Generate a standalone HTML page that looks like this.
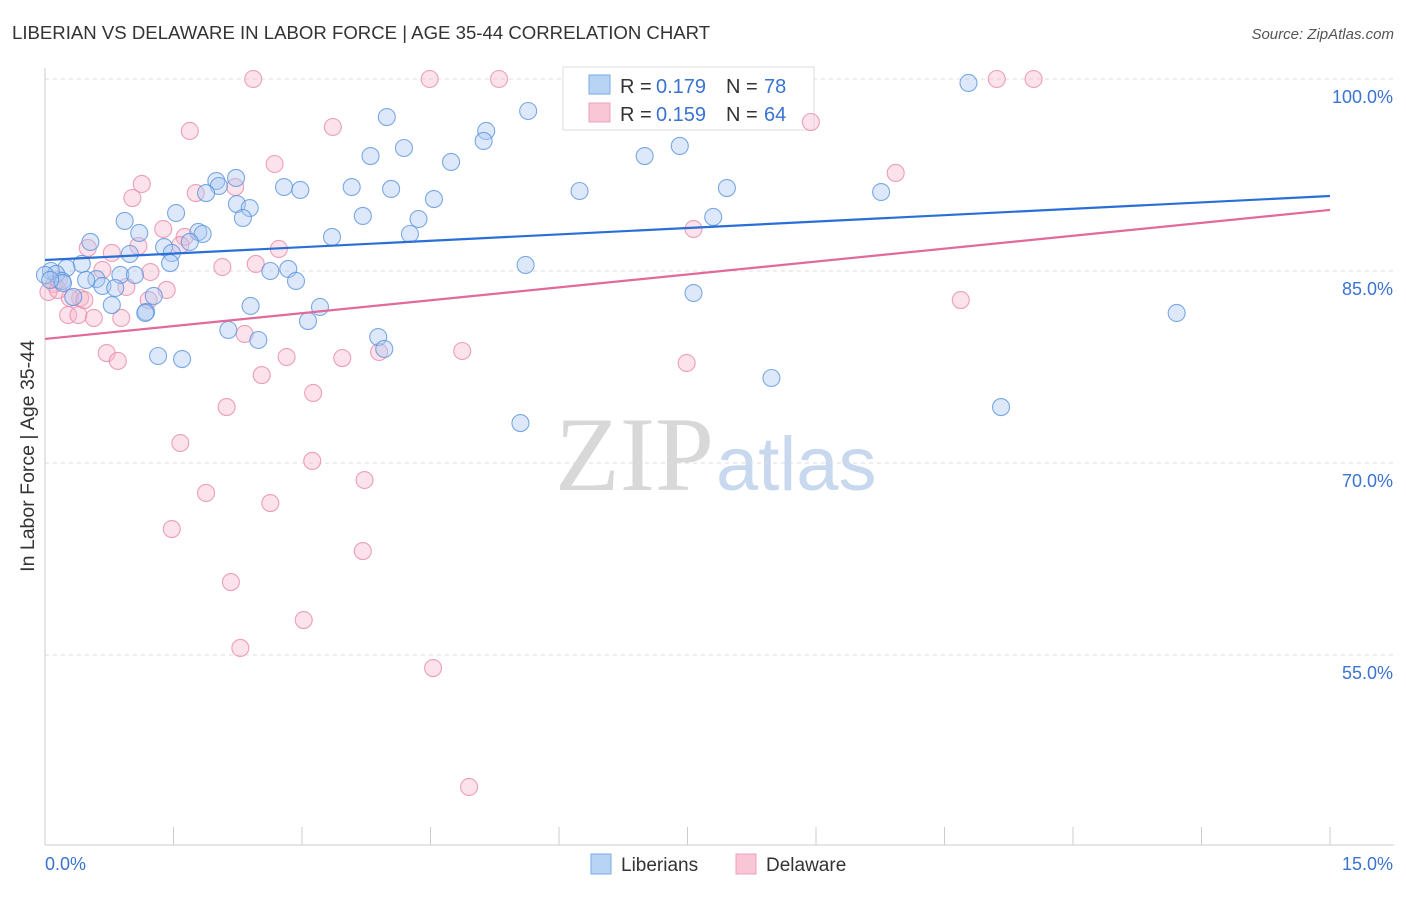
<!DOCTYPE html>
<html><head><meta charset="utf-8"><style>
body{margin:0;background:#fff;font-family:"Liberation Sans",sans-serif;}
</style></head><body>
<svg id="chart" width="1406" height="892" xmlns="http://www.w3.org/2000/svg" font-family="Liberation Sans, sans-serif">
<text x="12" y="39" font-size="18.6" fill="#333">LIBERIAN VS DELAWARE IN LABOR FORCE | AGE 35-44 CORRELATION CHART</text>
<text x="1394" y="39" font-size="15" fill="#555" text-anchor="end" font-style="italic">Source: ZipAtlas.com</text>
<text x="714" y="490" font-size="106" text-anchor="end" fill="#d8d8d8" font-family="Liberation Serif, serif">ZIP</text>
<text x="716" y="490" font-size="76" fill="#c8d8ee">atlas</text>
<g id="grid"></g>
<g id="axes"></g>
<g>
<rect x="563" y="67" width="251" height="63" fill="#fff" stroke="#ddd"/>
<rect x="589" y="75" width="21" height="19" fill="#b8d4f5" stroke="#7aaae6"/>
<rect x="589" y="103" width="21" height="19" fill="#f9c6d5" stroke="#eea0b8"/>
<text x="620" y="93" font-size="20" fill="#333">R =</text>
<text x="656" y="93" font-size="20" fill="#3a73d0">0.179</text>
<text x="726" y="93" font-size="20" fill="#333">N =</text>
<text x="764" y="93" font-size="20" fill="#3a73d0">78</text>
<text x="620" y="121" font-size="20" fill="#333">R =</text>
<text x="656" y="121" font-size="20" fill="#3a73d0">0.159</text>
<text x="726" y="121" font-size="20" fill="#333">N =</text>
<text x="764" y="121" font-size="20" fill="#3a73d0">64</text>
</g>
<g id="marks"></g>
<text transform="translate(34,456) rotate(-90)" font-size="19.5" fill="#333" text-anchor="middle">In Labor Force | Age 35-44</text>
<g>
<rect x="591" y="854" width="20" height="20" fill="#b8d4f5" stroke="#7aaae6"/>
<text x="621" y="871" font-size="19" fill="#333">Liberians</text>
<rect x="736" y="854" width="20" height="20" fill="#f9c6d5" stroke="#eea0b8"/>
<text x="766" y="871" font-size="19" fill="#333">Delaware</text>
</g>
</svg>
<script>
const yTicks=[100,85,70,55];
const yTickLabels=["100.0%","85.0%","70.0%","55.0%"];
const xTickLabels=["0.0%","15.0%"];
const blueX=[10.78,5.64,3.99,5.15,5.12,4.19,7.41,3.80,7.00,4.74,2.23,2.00,2.03,2.79,3.58,2.98,4.04,6.24,7.96,9.76,1.88,2.24,2.39,4.54,1.53,3.71,2.31,4.36,7.80,0.93,1.10,1.79,1.84,3.35,4.26,0.53,1.69,1.39,1.48,0.99,0.43,1.46,5.61,0.25,0.07,0.13,2.63,2.84,0,0.60,0.88,1.05,0.20,0.48,2.93,0.67,0.82,0.33,1.27,0.78,2.40,3.21,1.18,1.17,13.21,3.07,2.14,2.49,3.89,3.96,1.32,1.60,7.57,8.48,11.16,5.55,0.21,0.06];
const blueY=[99.69,97.5,97.03,95.94,95.16,94.61,94.77,93.98,93.98,93.52,92.27,92.03,91.64,91.56,91.56,91.33,91.41,91.25,91.48,91.17,91.09,90.23,89.92,90.62,89.53,89.3,89.14,89.06,89.22,88.91,87.97,88.05,87.89,87.66,87.89,87.27,87.27,86.87,86.41,86.33,85.55,85.62,85.47,85.23,85.0,84.77,85.0,85.16,84.69,84.37,84.69,84.69,84.22,84.3,84.22,83.83,83.67,82.97,83.05,82.34,82.27,82.19,81.8,81.72,81.72,81.09,80.39,79.61,79.84,78.91,78.36,78.12,83.28,76.64,74.37,73.12,84.06,84.3];
const pinkX=[2.43,4.49,5.30,11.11,11.54,8.94,1.69,3.36,2.68,9.93,1.13,2.22,1.76,1.02,1.38,7.57,1.63,0.50,1.09,0.78,1.58,2.46,2.07,2.73,0.67,1.23,0.95,1.42,0.11,0.41,0.29,1.21,0.04,0.15,10.69,0.27,0.39,0.57,0.89,2.33,0.72,0.85,2.82,3.47,3.90,4.87,7.49,2.53,2.12,3.13,1.58,3.12,3.73,1.88,2.63,1.48,3.71,2.17,3.02,2.28,4.53,4.95,0.16,0.46];
const pinkY=[100,100,100,100,100,96.64,95.94,96.25,93.36,92.66,91.8,91.56,91.09,90.7,88.28,88.28,87.66,86.8,86.95,86.41,87.03,85.55,85.31,86.72,85.08,84.92,83.75,83.52,83.98,82.89,82.89,82.73,83.36,83.52,82.73,81.56,81.56,81.33,81.33,80.08,78.59,77.97,78.28,78.2,78.67,78.75,77.81,76.87,74.37,75.47,71.56,70.16,68.67,67.66,66.87,64.84,63.12,60.7,57.73,55.55,53.98,44.69,84.3,82.73];
const blueTrend=[85.86,90.86];
const pinkTrend=[79.69,89.77];
const NS="http://www.w3.org/2000/svg";
const X0=45,X1=1330,Y100=79,PPU=12.8;
const xs=v=>X0+v/15*(X1-X0);
const ys=v=>Y100+(100-v)*PPU;
function mk(t,a,p){const e=document.createElementNS(NS,t);for(const k in a)e.setAttribute(k,a[k]);p.appendChild(e);return e;}
const grid=document.getElementById('grid'),axes=document.getElementById('axes'),marks=document.getElementById('marks');
yTicks.forEach((t,i)=>{
 const l=mk('line',{x1:X0,x2:1394,y1:ys(t),y2:ys(t),stroke:'#ddd','stroke-dasharray':'4,4'},grid);
 
 
 const tx=mk('text',{x:1393,y:ys(t)+24,'font-size':18,fill:'#3a73d0','text-anchor':'end'},axes);
 tx.textContent=yTickLabels[i];
 
 
});
const ya=mk('line',{x1:X0,x2:X0,y1:68,y2:845,stroke:'#ccc'},axes);


const xa=mk('line',{x1:X0,x2:1394,y1:845,y2:845,stroke:'#ccc'},axes);


for(let i=0;i<=10;i++){const v=i*1.5;const t=mk('line',{x1:xs(v),x2:xs(v),y1:827,y2:845,stroke:'#ccc'},axes);
 
 }
[[0,'start',45],[15,'end',1393]].forEach((d,i)=>{const t=mk('text',{x:d[2],y:870,'font-size':18,fill:'#3a73d0','text-anchor':d[1]},axes);t.textContent=xTickLabels[i];
 
 });
function pts(X,Y,fill,stroke,name){X.forEach((x,i)=>{const c=mk('circle',{cx:xs(x),cy:ys(Y[i]),r:8.5,fill:fill,'fill-opacity':0.4,stroke:stroke,'stroke-width':1.1,'stroke-opacity':0.8},marks);
 
 });}
pts(pinkX,pinkY,'#f7b6ca','#e88aab','delaware-point');
pts(blueX,blueY,'#a9c9f2','#5d95dd','liberians-point');
const bl=mk('line',{x1:xs(0),x2:xs(15),y1:ys(blueTrend[0]),y2:ys(blueTrend[1]),stroke:'#2a6fd6','stroke-width':2.2},marks);


const pl=mk('line',{x1:xs(0),x2:xs(15),y1:ys(pinkTrend[0]),y2:ys(pinkTrend[1]),stroke:'#e06a98','stroke-width':2.2},marks);


</script>
</body></html>
